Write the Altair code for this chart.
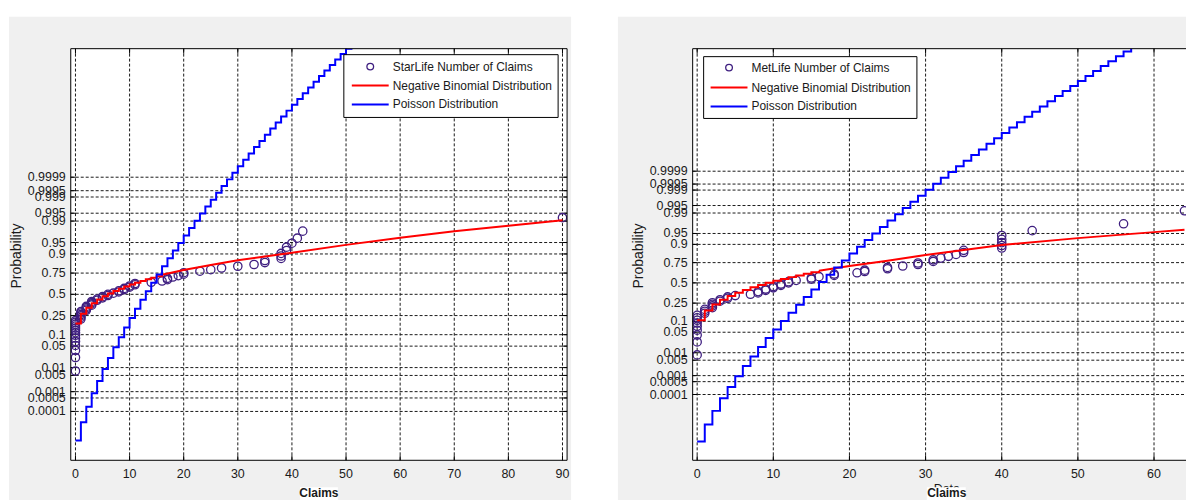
import altair as alt
import pandas as pd
from statistics import NormalDist

ND = NormalDist()

# ---------------------------------------------------------------- data
PROB_TICKS = [0.0001, 0.0005, 0.001, 0.005, 0.01, 0.05, 0.1, 0.25, 0.5,
              0.75, 0.9, 0.95, 0.99, 0.995, 0.999, 0.9995, 0.9999]
PROB_LABELS = ["0.0001", "0.0005", "0.001", "0.005", "0.01", "0.05", "0.1",
               "0.25", "0.5", "0.75", "0.9", "0.95", "0.99", "0.995",
               "0.999", "0.9995", "0.9999"]

STAR_X_TICKS = [0, 10, 20, 30, 40, 50, 60, 70, 80, 90]
MET_X_TICKS = [0, 10, 20, 30, 40, 50, 60]

# observed number of claims
starlife_claims = [0, 0, 0, 0, 0, 0, 0, 0, 0, 0, 0, 0, 0, 0,
                   1, 1, 1, 1, 1, 1, 2, 2, 2, 2, 3, 3, 3, 3,
                   4, 4, 5, 5, 6, 6, 7, 8, 8, 9, 9, 10, 10, 11, 11,
                   14, 16, 17, 17, 18, 19, 20, 20,
                   23, 25, 27, 30, 33, 35, 35,
                   38, 38, 38, 39, 39, 40, 41, 42, 90]
metlife_claims = [0, 0, 0, 0, 0, 0, 0, 0, 0, 1, 1, 1, 2, 2, 2, 2, 3, 3,
                  4, 4, 5, 7, 8, 8, 9, 9, 10, 10, 11, 11, 12, 12, 13,
                  15, 15, 16, 18, 18, 21, 22, 22, 25, 25, 27, 29, 29,
                  31, 31, 32, 33, 34, 35, 35, 40, 40, 40, 40, 40,
                  44, 56, 64]

# fitted CDFs on the probit scale (normal quantile of the CDF), k = 0, 1, 2, ...
starlife_poisson_z = [-4.64, -4.06, -3.57, -3.14, -2.75, -2.37, -2.02, -1.683,
                      -1.36, -1.05, -0.749, -0.458, -0.175, 0.101, 0.370, 0.632,
                      0.890, 1.142, 1.390, 1.632, 1.870, 2.104, 2.334, 2.563,
                      2.786, 3.006, 3.225, 3.44, 3.65, 3.86, 4.067, 4.273,
                      4.475, 4.675, 4.872, 5.068, 5.262, 5.455, 5.645, 5.833,
                      6.02, 6.205, 6.385, 6.57, 6.75, 6.93, 7.105, 7.285,
                      7.455, 7.63, 7.80, 7.97]
metlife_poisson_z = [-5.28, -4.72, -4.264, -3.844, -3.47, -3.11, -2.77, -2.45,
                     -2.14, -1.84, -1.55, -1.27, -0.998, -0.732, -0.473, -0.219,
                     0.029, 0.272, 0.511, 0.745, 0.975, 1.202, 1.425, 1.645,
                     1.861, 2.074, 2.285, 2.493, 2.699, 2.901, 3.101, 3.30,
                     3.497, 3.69, 3.881, 4.07, 4.26, 4.445, 4.63, 4.813,
                     4.994, 5.172, 5.35, 5.53, 5.70, 5.876, 6.05, 6.22,
                     6.39, 6.557, 6.725, 6.89, 7.055, 7.22, 7.385, 7.545,
                     7.705, 7.86, 8.02]

starlife_nb_step_z = [-0.924, -0.616, -0.425, -0.281, -0.163, -0.062, 0.027,
                      0.107, 0.180, 0.247, 0.309, 0.368, 0.424, 0.476, 0.527,
                      0.574, 0.620]
starlife_nb_tail_x = [20, 25, 30, 35, 40, 50, 60, 70, 80, 90]
starlife_nb_tail_z = [0.77, 0.93, 1.08, 1.20, 1.32, 1.57, 1.80, 2.00, 2.18, 2.35]

metlife_nb_step_z = [-1.243, -0.921, -0.718, -0.563, -0.437, -0.329, -0.234,
                     -0.148, -0.070, 0.002, 0.069, 0.131, 0.191, 0.247, 0.300,
                     0.351, 0.400]
metlife_nb_tail_x = [20, 25, 30, 40, 50, 60, 64]
metlife_nb_tail_z = [0.56, 0.74, 0.93, 1.26, 1.49, 1.69, 1.77]

# ---------------------------------------------------------------- style
FONT = "Liberation Sans"
TXT = "#1a1a1a"
GRAY = "#f0f0f0"
GRID = "#1a1a1a"
PURPLE = "#3f1f80"
RED = "#ff0000"
BLUE = "#0000ff"
H = 413

ONE = pd.DataFrame({"v": [0]})


def box(x0, x1, y0, y1, **kw):
    return alt.Chart(ONE).mark_rect(**kw).encode(
        x=alt.value(x0), x2=alt.value(x1), y=alt.value(y0), y2=alt.value(y1))


def hrule(x0, x1, y, **kw):
    return alt.Chart(ONE).mark_rule(**kw).encode(
        x=alt.value(x0), x2=alt.value(x1), y=alt.value(y))


def vrule(x, y0, y1, **kw):
    return alt.Chart(ONE).mark_rule(**kw).encode(
        x=alt.value(x), y=alt.value(y0), y2=alt.value(y1))


def label(txt, x, y, **kw):
    opts = dict(font=FONT, fontSize=12, color=TXT)
    opts.update(kw)
    return alt.Chart(ONE).mark_text(text=txt, **opts).encode(
        x=alt.value(x), y=alt.value(y))


def panel(cfg):
    W = cfg["W"]
    xs = alt.Scale(domain=cfg["xdom"], nice=False, zero=False)
    ys = alt.Scale(domain=cfg["zdom"], nice=False, zero=False)

    def X(f):
        return alt.X(f, scale=xs, axis=None)

    def Y(f):
        return alt.Y(f, scale=ys, axis=None)

    xt = pd.DataFrame({"x": cfg["xticks"],
                       "label": [str(t) for t in cfg["xticks"]]})
    zt = pd.DataFrame({"z": [ND.inv_cdf(p) for p in PROB_TICKS],
                       "label": PROB_LABELS})

    gx0, gx1 = cfg["gray"]
    layers = [box(gx0, gx1, -32, H + 40, color=GRAY),
              box(0, W, 0, H, color="white")]

    # dotted grid
    gkw = dict(color=GRID, strokeWidth=1, strokeDash=[3, 2])
    layers.append(alt.Chart(xt).mark_rule(**gkw).encode(
        x=X("x:Q"), y=alt.value(0), y2=alt.value(H)))
    layers.append(alt.Chart(zt).mark_rule(**gkw).encode(
        y=Y("z:Q"), x=alt.value(0), x2=alt.value(W)))

    # inward tick marks
    tkw = dict(color="black", strokeWidth=1)
    layers.append(alt.Chart(xt).mark_rule(**tkw).encode(
        x=X("x:Q"), y=alt.value(H - 5), y2=alt.value(H)))
    layers.append(alt.Chart(xt).mark_rule(**tkw).encode(
        x=X("x:Q"), y=alt.value(0), y2=alt.value(5)))
    layers.append(alt.Chart(zt).mark_rule(**tkw).encode(
        y=Y("z:Q"), x=alt.value(0), x2=alt.value(5)))
    if cfg["right_border"]:
        layers.append(alt.Chart(zt).mark_rule(**tkw).encode(
            y=Y("z:Q"), x=alt.value(W - 5), x2=alt.value(W)))

    # empirical points at plotting positions (i - 0.5) / n
    claims = sorted(cfg["claims"])
    n = len(claims)
    pts = pd.DataFrame({"claims": claims,
                        "z": [ND.inv_cdf((i + 0.5) / n) for i in range(n)]})
    layers.append(alt.Chart(pts).mark_point(
        shape="circle", filled=False, size=70, strokeWidth=1.3,
        color=PURPLE, opacity=1, clip=True).encode(x=X("claims:Q"), y=Y("z:Q")))

    # negative binomial fit
    steps = cfg["nb_step"]
    nb_steps = pd.DataFrame({"k": list(range(len(steps))), "z": steps})
    layers.append(alt.Chart(nb_steps).mark_line(
        color=RED, strokeWidth=2, interpolate="step-after", clip=True).encode(
        x=X("k:Q"), y=Y("z:Q")))
    nb_tail = pd.DataFrame({"k": [len(steps) - 1] + cfg["nb_tail_x"],
                            "z": [steps[-1]] + cfg["nb_tail_z"]})
    layers.append(alt.Chart(nb_tail).mark_line(
        color=RED, strokeWidth=2, clip=True).encode(x=X("k:Q"), y=Y("z:Q")))

    # poisson fit
    pz = cfg["poisson"]
    pois = pd.DataFrame({"k": list(range(len(pz))), "z": pz})
    layers.append(alt.Chart(pois).mark_line(
        color=BLUE, strokeWidth=2, interpolate="step-after", clip=True).encode(
        x=X("k:Q"), y=Y("z:Q")))

    # axes box
    bkw = dict(color="black", strokeWidth=1)
    layers += [hrule(0, W, 0, **bkw), hrule(0, W, H, **bkw), vrule(0, 0, H, **bkw)]
    if cfg["right_border"]:
        layers.append(vrule(W, 0, H, **bkw))

    # tick labels
    layers.append(alt.Chart(xt).mark_text(
        font=FONT, fontSize=12.5, color=TXT, baseline="top", align="center").encode(
        x=X("x:Q"), y=alt.value(H + 8), text="label:N"))
    layers.append(alt.Chart(zt).mark_text(
        font=FONT, fontSize=12.5, color=TXT, baseline="middle", align="right").encode(
        y=Y("z:Q"), x=alt.value(-5), text="label:N"))

    # axis titles
    layers.append(label("Probability", -54, 208, fontSize=14, angle=270,
                        align="center", baseline="middle"))
    cx = cfg["title_x"]
    if cfg["data_label"]:
        layers.append(label("Data", cx, 446, fontSize=12.5, align="center",
                            baseline="alphabetic"))
    bx0, bx1 = cfg["title_box"]
    layers.append(box(bx0, bx1, 440, H + 40, color="white"))
    layers.append(label("Claims", cx, 450, fontSize=12, fontWeight="bold",
                        align="center", baseline="alphabetic"))

    # legend
    lx0, lx1, ly0, ly1 = cfg["legend_box"]
    layers.append(box(lx0, lx1, ly0, ly1, color="white", stroke="black",
                      strokeWidth=1))
    sx0, sx1 = cfg["legend_line"]
    r1, r2, r3 = cfg["legend_rows"]
    tx = cfg["legend_text_x"]
    layers.append(alt.Chart(ONE).mark_point(
        shape="circle", filled=False, size=45, strokeWidth=1.3,
        color=PURPLE, opacity=1).encode(x=alt.value((sx0 + sx1) / 2), y=alt.value(r1)))
    layers.append(hrule(sx0, sx1, r2, color=RED, strokeWidth=2))
    layers.append(hrule(sx0, sx1, r3, color=BLUE, strokeWidth=2))
    for txt, r in zip([cfg["legend_name"], "Negative Binomial Distribution",
                       "Poisson Distribution"], [r1, r2, r3]):
        layers.append(label(txt, tx, r, align="left", baseline="middle"))

    return alt.layer(*layers).properties(width=W, height=H)


star_cfg = dict(
    W=498, xdom=[-0.87, 90.85], zdom=[-5.27, 7.80], xticks=STAR_X_TICKS,
    gray=(-62, 502), right_border=True, claims=starlife_claims,
    nb_step=starlife_nb_step_z, nb_tail_x=starlife_nb_tail_x,
    nb_tail_z=starlife_nb_tail_z, poisson=starlife_poisson_z,
    title_x=249, title_box=(230, 268), data_label=False,
    legend_box=(274, 489, 6, 69), legend_line=(282, 319),
    legend_rows=(18, 37, 56), legend_text_x=323,
    legend_name="StarLife Number of Claims")

met_cfg = dict(
    W=495, xdom=[-0.59, 64.2], zdom=[-5.91, 7.80], xticks=MET_X_TICKS,
    gray=(-75, 495), right_border=False, claims=metlife_claims,
    nb_step=metlife_nb_step_z, nb_tail_x=metlife_nb_tail_x,
    nb_tail_z=metlife_nb_tail_z, poisson=metlife_poisson_z,
    title_x=255, title_box=(235, 274), data_label=True,
    legend_box=(11, 225, 8, 70), legend_line=(18, 55),
    legend_rows=(19, 39, 58), legend_text_x=59,
    legend_name="MetLife Number of Claims")

chart = alt.hconcat(panel(star_cfg), panel(met_cfg), spacing=45).properties(
    padding={"left": 8, "top": 15, "right": 0, "bottom": 0},
    background="white",
).configure_view(stroke="transparent")

chart.save("out.html", embed_options={"renderer": "svg", "actions": False})
